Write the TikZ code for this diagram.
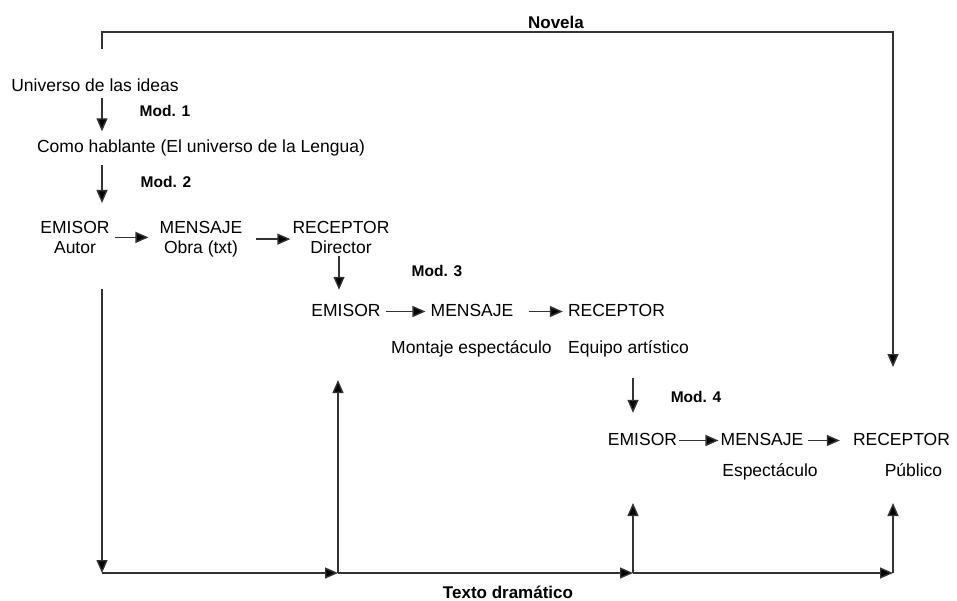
\documentclass[tikz,border=0pt]{standalone}
\usepackage{fontspec}
\setmainfont{Liberation Sans}
\usetikzlibrary{arrows.meta,positioning,calc}
\tikzset{
    txt/.style={inner sep=2pt, font=\fontsize{17.5}{20}\selectfont, text height=13pt, text depth=4pt},
    pair/.style={inner sep=2pt, font=\fontsize{17.5}{20}\selectfont, align=center, anchor=north},
    modlbl/.style={inner sep=2pt, font=\bfseries\fontsize{15.5}{18}\selectfont, text height=11pt, text depth=3pt},
    title/.style={inner sep=2pt, font=\bfseries\fontsize{17}{20}\selectfont, text height=12.5pt, text depth=3.5pt},
    line/.style={draw=black!80, -{Triangle[length=13pt,width=11pt,fill=black]}, line width=1.4pt},
    plain/.style={draw=black!80, line width=1.4pt}
}
\begin{document}
\begin{tikzpicture}[x=1pt, y=-1pt]
    \useasboundingbox (0,0) rectangle (957,601);

    \coordinate (novelaL) at (102,49);
    \coordinate (topR) at (893,32);
    \coordinate (novelaEnd) at (893,367);
    \coordinate (colA) at (102,100);
    \coordinate (leftTop) at (102,289);
    \coordinate (b1) at (102,573);
    \coordinate (b2) at (338,573);
    \coordinate (b3) at (633,573);
    \coordinate (b4) at (893,573);
    \coordinate (u2) at (338,380);
    \coordinate (u3) at (633,503);
    \coordinate (u4) at (893,503);

    \node [title] (novela) at (556,24) {Novela};
    \node [txt] (universo) at (95,87) {Universo de las ideas};
    \node [modlbl] (mod1) at (165,112.5) {Mod. 1};
    \node [txt] (como) at (201,148) {Como hablante (El universo de la Lengua)};
    \node [modlbl] (mod2) at (166,184) {Mod. 2};

    \node [pair] (emisorA) at (75,219) {EMISOR\\Autor};
    \node [pair] (mensajeA) at (201,219) {MENSAJE\\Obra (txt)};
    \node [pair] (recepA) at (341,219) {RECEPTOR\\Director};
    \node [modlbl] (mod3) at (437,272.5) {Mod. 3};

    \node [txt] (emisorB) at (346,311.5) {EMISOR};
    \node [txt] (mensajeB) at (472,311.5) {MENSAJE};
    \node [txt] (recepB) at (616.5,311.5) {RECEPTOR};
    \node [txt] (montaje) at (471.5,348.5) {Montaje espectáculo};
    \node [txt] (equipo) at (628.5,348.5) {Equipo artístico};
    \node [modlbl] (mod4) at (696,398.5) {Mod. 4};

    \node [txt] (emisorC) at (642.5,440.5) {EMISOR};
    \node [txt] (mensajeC) at (762,440.5) {MENSAJE};
    \node [txt] (recepC) at (901.5,440.5) {RECEPTOR};
    \node [txt] (espect) at (770,472) {Espectáculo};
    \node [txt] (publico) at (913.5,472) {Público};

    \node [title, inner sep=0pt, text depth=0pt, anchor=base] (texto) at (508,598) {Texto dramático};

    \path [line] (novelaL) |- (topR) -- (novelaEnd);
    \path [line, shorten >=6pt] (universo.south -| colA) -- (como.north -| colA);
    \path [line, shorten <=6pt, shorten >=16pt] (como.south -| colA) -- (emisorA.north -| colA);
    \path [line, shorten <=3pt, shorten >=9pt] (emisorA.east) -- (emisorA.east -| mensajeA.west);
    \path [line, shorten <=11pt] (mensajeA.east) -- (mensajeA.east -| recepA.west);
    \path [line, shorten >=11pt] ([xshift=-2pt]recepA.south) -- ([xshift=-2pt]recepA.south |- emisorB.north);
    \path [line, shorten <=3pt, shorten >=3pt] (emisorB.east) -- (mensajeB.west);
    \path [line, shorten <=13pt, shorten >=3pt] (mensajeB.east) -- (recepB.west);
    \path [line, shorten <=19pt, shorten >=17pt] (equipo.south -| b3) -- (emisorC.north -| b3);
    \path [line] (emisorC.east) -- (mensajeC.west);
    \path [line, shorten <=2pt, shorten >=11pt] (mensajeC.east) -- (recepC.west);

    \path [line] (leftTop) -- (b1);
    \path [line] (b1) -- (b2);
    \path [line] (b2) -- (b3);
    \path [line] (b3) -- (b4);
    \path [line] (b2) -- (u2);
    \path [line] (b3) -- (u3);
    \path [line] (b4) -- (u4);
\end{tikzpicture}
\end{document}
